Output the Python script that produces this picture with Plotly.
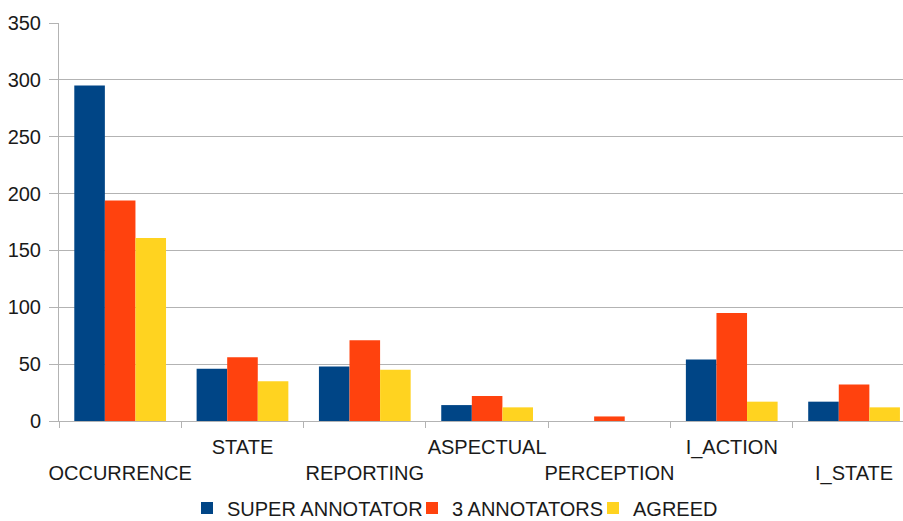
import plotly.graph_objects as go

categories = ["OCCURRENCE", "STATE", "REPORTING", "ASPECTUAL", "PERCEPTION", "I_ACTION", "I_STATE"]
super_annotator = [295, 46, 48, 14, 0, 54, 17]
three_annotators = [194, 56, 71, 22, 4, 95, 32]
agreed = [161, 35, 45, 12, 0, 17, 12]
series_names = ["SUPER ANNOTATOR", "3 ANNOTATORS", "AGREED"]
y_ticks = [0, 50, 100, 150, 200, 250, 300, 350]

colors = ["#004586", "#ff420e", "#ffd320"]
font = dict(family="Liberation Sans, Arial, sans-serif", size=20, color="#1a1a1a")
legend_ids = ["legend", "legend2", "legend3"]
legend_left_px = [187, 412, 593]

fig = go.Figure()
for name, vals, col, lg in zip(series_names, [super_annotator, three_annotators, agreed], colors, legend_ids):
    fig.add_trace(go.Bar(x=categories, y=vals, name=name, legend=lg,
                         marker=dict(color=col, line=dict(width=0))))

ticktext = [("<br>" + c) if i % 2 == 0 else c for i, c in enumerate(categories)]

legend_layout = {}
for lg, px in zip(legend_ids, legend_left_px):
    legend_layout[lg] = dict(orientation="h", xref="container", yref="container",
                             x=px / 903, xanchor="left", y=1 - 508 / 521, yanchor="middle",
                             font=font, bgcolor="rgba(0,0,0,0)", itemwidth=30)

fig.update_layout(
    width=903, height=521,
    margin=dict(l=59, r=0, t=23, b=100),
    paper_bgcolor="white", plot_bgcolor="white",
    font=font,
    barmode="group", bargap=0.25, bargroupgap=0,
    showlegend=True,
    xaxis=dict(type="category", range=[-0.5, 6.4], tickmode="array", tickvals=categories, ticktext=ticktext,
               tickangle=0, automargin=False,
               showline=True, linecolor="#b3b3b3", linewidth=1,
               ticks="outside", tickson="boundaries", ticklen=6, tickcolor="#b3b3b3",
               ticklabelstandoff=8,
               showgrid=False, tickfont=font),
    yaxis=dict(range=[0, 350], tickvals=y_ticks, showgrid=True, gridcolor="#b3b3b3", gridwidth=1,
               automargin=False,
               showline=True, linecolor="#b3b3b3", ticks="outside", ticklen=9, tickcolor="#b3b3b3",
               ticklabelstandoff=4,
               zeroline=False, tickfont=font),
    **legend_layout,
)

fig.write_html("out.html", config={"displayModeBar": False},
               post_script="document.body.style.margin='0';document.body.style.overflow='hidden';")
